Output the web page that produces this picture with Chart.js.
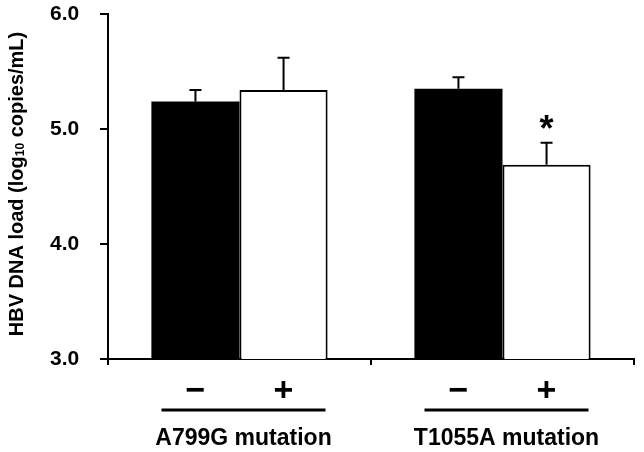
<!DOCTYPE html>
<html>
<head>
<meta charset="utf-8">
<script src="https://cdn.jsdelivr.net/npm/chart.js@4.4.0/dist/chart.umd.min.js"></script>
<style>
  html, body { margin: 0; padding: 0; background: #fff; }
</style>
</head>
<body>
<canvas id="chart" width="644" height="452"></canvas>
<script>
// Data
const groups = ['A799G mutation', 'T1055A mutation'];
const seriesSymbols = ['\u2212', '+'];
const withoutMutation = [5.24, 5.35];
const withMutation = [5.34, 4.69];
const withoutErr = [0.10, 0.10];
const withErr = [0.28, 0.19];
const withMarks = ['', '*'];
const yTicks = [3.0, 4.0, 5.0, 6.0];

const FONT = "'Liberation Sans', Arial, sans-serif";

// Error bars, asterisk, +/- row, group labels and the y title
const annotations = {
    id: 'annotations',
    afterDatasetsDraw(chart) {
        const ctx = chart.ctx;
        const yScale = chart.scales.y;
        const errs = [withoutErr, withErr];
        ctx.save();
        ctx.strokeStyle = '#000';
        ctx.fillStyle = '#000';
        ctx.lineWidth = 2;
        chart.data.datasets.forEach((ds, di) => {
            const meta = chart.getDatasetMeta(di);
            meta.data.forEach((bar, i) => {
                const top = yScale.getPixelForValue(ds.data[i] + errs[di][i]);
                ctx.beginPath();
                ctx.moveTo(bar.x, bar.y);
                ctx.lineTo(bar.x, top);
                ctx.moveTo(bar.x - 6, top);
                ctx.lineTo(bar.x + 6, top);
                ctx.stroke();
                if (di === 1 && withMarks[i]) {
                    ctx.font = 'bold 36px ' + FONT;
                    ctx.textAlign = 'center';
                    ctx.textBaseline = 'alphabetic';
                    ctx.fillText(withMarks[i], bar.x, top - 22 + 0.57 * 36);
                }
            });
        });
        ctx.restore();
    },
    afterDraw(chart) {
        const ctx = chart.ctx;
        const xScale = chart.scales.x;
        ctx.save();
        ctx.fillStyle = '#000';
        ctx.strokeStyle = '#000';
        ctx.textAlign = 'center';

        // +/- under each bar
        ctx.font = 'bold 34px ' + FONT;
        ctx.textBaseline = 'alphabetic';
        chart.data.datasets.forEach((ds, di) => {
            chart.getDatasetMeta(di).data.forEach(bar => {
                ctx.fillText(seriesSymbols[di], bar.x, 387 + 0.41 * 34);
            });
        });

        // group lines and names
        groups.forEach((g, i) => {
            const cx = xScale.getPixelForValue(i) + 4;
            ctx.lineWidth = 3;
            ctx.beginPath();
            ctx.moveTo(cx - 82, 410);
            ctx.lineTo(cx + 82, 410);
            ctx.stroke();
            ctx.font = 'bold 23px ' + FONT;
            ctx.textBaseline = 'middle';
            ctx.fillText(g, cx, 439);
        });

        // y axis title with subscript
        const parts = [
            { t: 'HBV DNA load (log', f: 'bold 20px ' + FONT, dy: 0 },
            { t: '10', f: 'bold 12px ' + FONT, dy: 4 },
            { t: ' copies/mL)', f: 'bold 20px ' + FONT, dy: 0 }
        ];
        let total = 0;
        parts.forEach(p => { ctx.font = p.f; p.w = ctx.measureText(p.t).width; total += p.w; });
        ctx.translate(17, 184);
        ctx.rotate(-Math.PI / 2);
        ctx.textAlign = 'left';
        ctx.textBaseline = 'middle';
        let px = -total / 2;
        parts.forEach(p => {
            ctx.font = p.f;
            ctx.fillText(p.t, px, p.dy);
            px += p.w;
        });
        ctx.restore();
    }
};

const ctx = document.getElementById('chart').getContext('2d');
const chart = new Chart(ctx, {
    type: 'bar',
    data: {
        labels: groups,
        datasets: [{
            label: seriesSymbols[0],
            data: withoutMutation,
            backgroundColor: '#000',
            borderColor: '#000',
            borderWidth: 0
        }, {
            label: seriesSymbols[1],
            data: withMutation,
            backgroundColor: '#fff',
            borderColor: '#000',
            borderWidth: 2
        }]
    },
    options: {
        responsive: false,
        animation: false,
        layout: { padding: { top: 14, right: 10, left: 50, bottom: 0 } },
        datasets: {
            bar: { categoryPercentage: 0.67, barPercentage: 1.0 }
        },
        plugins: {
            legend: { display: false },
            tooltip: { enabled: false }
        },
        scales: {
            x: {
                offset: true,
                grid: {
                    offset: true,
                    drawOnChartArea: false,
                    drawTicks: true,
                    tickLength: 6,
                    color: '#000',
                    lineWidth: 2
                },
                border: { display: true, color: '#000', width: 2 },
                ticks: { display: false },
                afterFit(scale) { scale.height = 93; }
            },
            y: {
                min: 3,
                max: 6,
                afterBuildTicks(scale) {
                    scale.ticks = yTicks.map(v => ({ value: v }));
                },
                grid: {
                    drawOnChartArea: false,
                    drawTicks: true,
                    tickLength: 8,
                    color: '#000',
                    lineWidth: 2
                },
                border: { display: true, color: '#000', width: 2 },
                ticks: {
                    color: '#000',
                    padding: 0,
                    crossAlign: 'far',
                    font: { family: FONT, size: 21, weight: 'bold' },
                    callback: v => Number(v).toFixed(1)
                },
                afterFit(scale) { scale.width = 58; }
            }
        }
    },
    plugins: [annotations]
});
</script>
</body>
</html>
